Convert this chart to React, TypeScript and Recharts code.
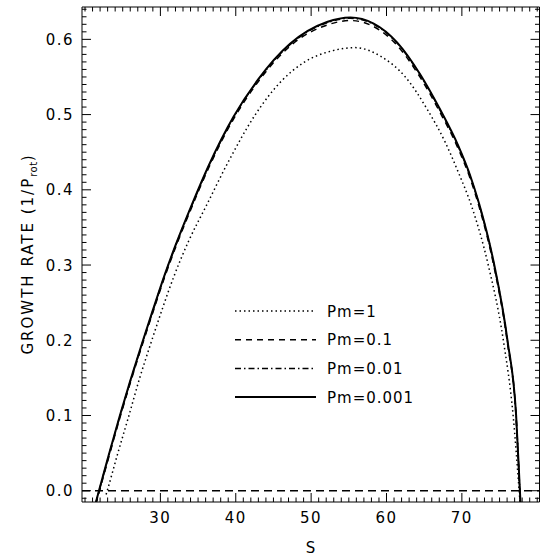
import React from "react";
import { LineChart, Line, XAxis, YAxis, ReferenceLine } from "recharts";

// S values and growth rates (1/P_rot)
const sPm1 = [22.8, 22.95, 24.3, 25.8, 27.2, 28.7, 30.2, 31.8, 33.8, 36.0, 39.0, 42.6, 46.1, 49.0, 52.9, 55.8, 59.3, 62.5, 65.4, 67.8, 69.5, 71.3, 73.5, 75.5, 76.8, 77.6, 77.75];
const gPm1 = [-0.005, 0.0, 0.048, 0.099, 0.148, 0.195, 0.24, 0.285, 0.333, 0.377, 0.437, 0.5, 0.545, 0.569, 0.585, 0.589, 0.577, 0.55, 0.507, 0.463, 0.424, 0.378, 0.3, 0.2, 0.1, 0.0, -0.02];

const sLowPm = [21.45, 21.85, 23.0, 24.6, 26.0, 27.6, 29.0, 30.5, 32.0, 34.0, 36.4, 39.7, 43.0, 47.2, 52.1, 55.2, 58.3, 61.4, 64.5, 67.1, 69.5, 71.1, 72.3, 74.3, 76.05, 77.2, 77.7, 77.85];
const gPm01 = [-0.018, -0.003, 0.039, 0.096, 0.143, 0.194, 0.237, 0.282, 0.323, 0.373, 0.429, 0.494, 0.544, 0.591, 0.619, 0.625, 0.617, 0.592, 0.549, 0.503, 0.455, 0.415, 0.377, 0.296, 0.196, 0.096, -0.004, -0.035];
const gPm001 = [-0.016, -0.001, 0.041, 0.098, 0.145, 0.196, 0.239, 0.284, 0.325, 0.375, 0.431, 0.496, 0.546, 0.593, 0.622, 0.628, 0.62, 0.595, 0.552, 0.506, 0.458, 0.418, 0.38, 0.299, 0.199, 0.099, -0.001, -0.031];
const gPm0001 = [-0.015, 0.0, 0.042, 0.099, 0.146, 0.197, 0.24, 0.285, 0.326, 0.376, 0.432, 0.497, 0.547, 0.594, 0.623, 0.629, 0.621, 0.596, 0.553, 0.507, 0.459, 0.419, 0.381, 0.3, 0.2, 0.1, 0.0, -0.03];

const xMajor = [30, 40, 50, 60, 70];
const yMajor = [0, 0.1, 0.2, 0.3, 0.4, 0.5, 0.6];

const X_DOMAIN: [number, number] = [19.6, 80.3];
const Y_DOMAIN: [number, number] = [-0.015, 0.643];

const xTicks: number[] = [];
for (let i = 20; i <= 80; i++) xTicks.push(i);
const yTicks: number[] = [];
for (let i = -1; i <= 64; i++) yTicks.push(i / 100);

const toRows = (s: number[], g: number[]) => s.map((v, i) => ({ s: v, g: g[i] }));

const series = [
  { name: "Pm=1", data: toRows(sPm1, gPm1), dash: "1.5 3", width: 1.5, xId: "xt", yId: "yr" },
  { name: "Pm=0.1", data: toRows(sLowPm, gPm01), dash: "6 5", width: 1.5, xId: "xb", yId: "yl" },
  { name: "Pm=0.01", data: toRows(sLowPm, gPm001), dash: "6 3 1.5 3", width: 1.5, xId: "xb", yId: "yl" },
  { name: "Pm=0.001", data: toRows(sLowPm, gPm0001), dash: undefined, width: 2, xId: "xb", yId: "yl" },
];

const FONT = "DejaVu Sans";

const isMajorX = (v: number) => xMajor.includes(v);
const isMajorY = (v: number) => yMajor.some((m) => Math.abs(m - v) < 1e-6);

// each tick is a reference line drawn only as two short inward stubs at the frame
const XStub = (props: any) => {
  const { x1, y1, y2, major } = props;
  const len = major ? 9 : 4.5;
  const top = Math.min(y1, y2);
  const bottom = Math.max(y1, y2);
  return (
    <g>
      <rect x={x1 - 0.5} y={bottom - len} width={1} height={len} fill="#000" />
      <rect x={x1 - 0.5} y={top} width={1} height={len} fill="#000" />
    </g>
  );
};

const YStub = (props: any) => {
  const { x1, x2, y1, major } = props;
  const len = major ? 9 : 4.5;
  const left = Math.min(x1, x2);
  const right = Math.max(x1, x2);
  return (
    <g>
      <rect x={left} y={y1 - 0.5} width={len} height={1} fill="#000" />
      <rect x={right - len} y={y1 - 0.5} width={len} height={1} fill="#000" />
    </g>
  );
};

const BottomLabel = (props: any) => {
  const { x, y, payload } = props;
  return (
    <text x={x} y={y + 21} textAnchor="middle" fontSize={15} fontFamily={FONT} letterSpacing={1.5} fill="#000">
      {payload.value}
    </text>
  );
};

const LeftLabel = (props: any) => {
  const { x, y, payload } = props;
  return (
    <text x={x - 8} y={y + 5.5} textAnchor="end" fontSize={15} fontFamily={FONT} letterSpacing={1.5} fill="#000">
      {payload.value.toFixed(1)}
    </text>
  );
};

const legendTop = 311;
const legendStep = 28.7;

const App = () => {
  return (
    <div style={{ position: "absolute", left: 0, top: 0, width: 546, height: 557, background: "#fff" }}>
      <svg width={546} height={557} style={{ position: "absolute", left: 0, top: 0 }}>
        <text x={310.5} y={553} textAnchor="middle" fontSize={15} fontFamily={FONT} fill="#000">
          S
        </text>
        <text
          transform="translate(33,254) rotate(-90)"
          textAnchor="middle"
          fontSize={15}
          fontFamily={FONT}
          letterSpacing={2}
          fill="#000"
        >
          GROWTH RATE (1/P
          <tspan fontSize={10} dy={4} letterSpacing={0.5}>rot</tspan>
          <tspan dy={-4}>)</tspan>
        </text>
        {series.map((sr, i) => {
          const y = legendTop + i * legendStep;
          return (
            <g key={sr.name}>
              <line x1={235} x2={316} y1={y} y2={y} stroke="#000" strokeWidth={sr.width} strokeDasharray={sr.dash} />
              <text x={327} y={y + 5.5} fontSize={15} fontFamily={FONT} letterSpacing={1} fill="#000">
                {sr.name}
              </text>
            </g>
          );
        })}
      </svg>
      <div style={{ position: "absolute", left: 0, top: 0 }}>
        <LineChart width={546} height={557} margin={{ top: 7, right: 6.5, bottom: 0, left: 0 }}>
          <XAxis
            xAxisId="xb"
            type="number"
            dataKey="s"
            domain={X_DOMAIN}
            allowDataOverflow
            ticks={xMajor}
            interval={0}
            tickSize={0}
            tickMargin={0}
            tickLine={false}
            height={55}
            axisLine={{ stroke: "#000" }}
            tick={(p: any) => <BottomLabel {...p} />}
          />
          <XAxis
            xAxisId="xt"
            orientation="top"
            type="number"
            dataKey="s"
            mirror
            domain={X_DOMAIN}
            allowDataOverflow
            height={12}
            tickLine={false}
            axisLine={{ stroke: "#000" }}
            tick={false}
          />
          <YAxis
            yAxisId="yl"
            type="number"
            domain={Y_DOMAIN}
            allowDataOverflow
            ticks={yMajor}
            interval={0}
            tickSize={0}
            tickMargin={0}
            tickLine={false}
            width={82}
            axisLine={{ stroke: "#000" }}
            tick={(p: any) => <LeftLabel {...p} />}
          />
          <YAxis
            yAxisId="yr"
            orientation="right"
            type="number"
            mirror
            domain={Y_DOMAIN}
            allowDataOverflow
            width={12}
            tickLine={false}
            axisLine={{ stroke: "#000" }}
            tick={false}
          />
          {xTicks.map((v) => (
            <ReferenceLine
              key={`xt${v}`}
              xAxisId="xb"
              yAxisId="yl"
              x={v}
              stroke="#000"
              shape={(p: any) => <XStub {...p} major={isMajorX(v)} />}
            />
          ))}
          {yTicks.map((v) => (
            <ReferenceLine
              key={`yt${v}`}
              xAxisId="xb"
              yAxisId="yl"
              y={v}
              stroke="#000"
              shape={(p: any) => <YStub {...p} major={isMajorY(v)} />}
            />
          ))}
          <ReferenceLine xAxisId="xb" yAxisId="yl" y={0} stroke="#000" strokeWidth={1.5} strokeDasharray="8 5" />
          {series.map((sr) => (
            <Line
              key={sr.name}
              xAxisId={sr.xId}
              yAxisId={sr.yId}
              data={sr.data}
              dataKey="g"
              name={sr.name}
              type="monotone"
              stroke="#000"
              strokeWidth={sr.width}
              strokeDasharray={sr.dash}
              dot={false}
              activeDot={false}
              isAnimationActive={false}
            />
          ))}
        </LineChart>
      </div>
    </div>
  );
};

export default App;
